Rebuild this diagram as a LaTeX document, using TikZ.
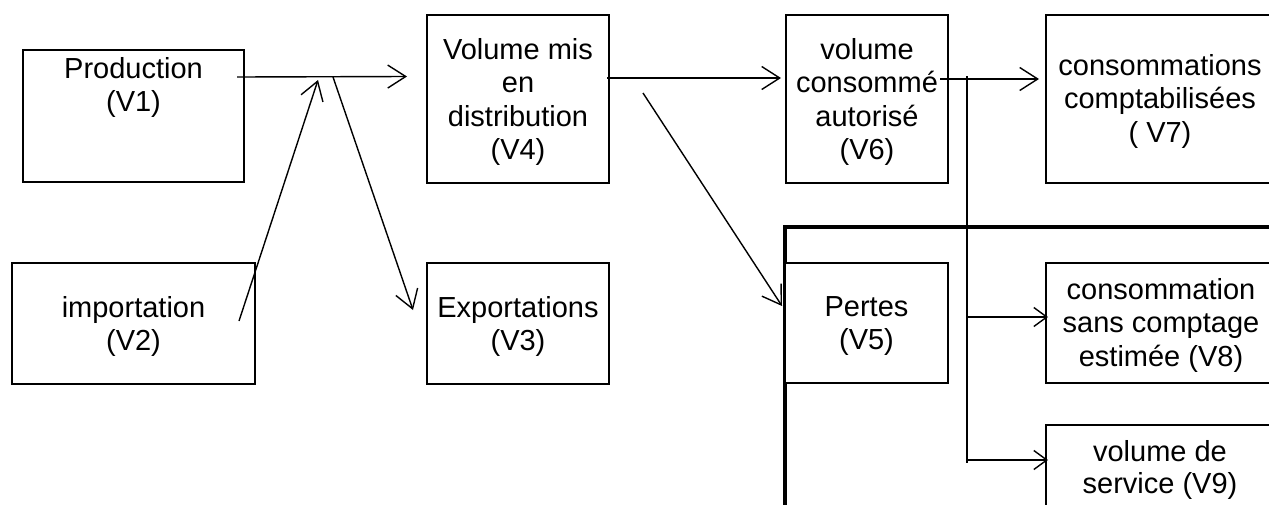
\documentclass[tikz,border=0pt]{standalone}
\usepackage{fontspec}
\setmainfont{Liberation Sans}
\usetikzlibrary{arrows.meta}
\begin{document}
\begin{tikzpicture}[x=1pt,y=-1pt,
  box/.style={draw,line width=2.2pt,rectangle,inner sep=0pt},
  txt/.style={align=center,inner sep=0pt,anchor=north,font=\fontsize{29}{33.5}\selectfont},
  conn/.style={line width=1.4pt,-{Straight Barb[length=18pt,width=23pt]}},
  sconn/.style={line width=1.4pt,-{Straight Barb[length=13pt,width=19pt]}},
  plain/.style={line width=1.4pt}]
\useasboundingbox (0,0) rectangle (1269,504);
\clip (0,0) rectangle (1269,504);
% large frame
\draw[line width=3.2pt] (785,560) -- (785,227) -- (1300,227);
% boxes
\node[box,minimum width=221pt,minimum height=132pt] (b1) at (133.5,116) {};
\node[box,minimum width=243pt,minimum height=121pt] (b2) at (133.5,323.5) {};
\node[box,minimum width=182pt,minimum height=121pt] (b3) at (518,323.5) {};
\node[box,minimum width=182pt,minimum height=168pt] (b4) at (518,99) {};
\node[box,minimum width=163pt,minimum height=120pt,fill=white] (b5) at (866.5,323) {};
\node[box,minimum width=162pt,minimum height=168pt] (b6) at (867,99) {};
\node[box,minimum width=230pt,minimum height=168pt] (b7) at (1161,99) {};
\node[box,minimum width=230pt,minimum height=120pt] (b8) at (1161,323) {};
\node[box,minimum width=230pt,minimum height=120pt] (b9) at (1161,485) {};
% texts
\node[txt] (t1) at (133.5,57) {Production\\(V1)};
\node[txt] (t2) at (133.5,296) {importation\\(V2)};
\node[txt] (t3) at (518,296) {Exportations\\(V3)};
\node[txt] (t4) at (518,38) {Volume mis\\en\\distribution\\(V4)};
\node[txt] (t5) at (866.5,296) {Pertes\\(V5)};
\node[txt] (t6) at (867,38) {volume\\consommé\\autorisé\\(V6)};
\node[txt] (t7) at (1160,54) {consommations\\comptabilisées\\( V7)};
\node[txt] (t8) at (1161,278) {consommation\\sans comptage\\estimée (V8)};
\node[txt,font=\fontsize{29}{32}\selectfont] (t9) at (1160,440) {volume de\\service (V9)};
% connector end points
\coordinate (p1s) at (237,77);
\coordinate (p1e) at (407,76.5);
\coordinate (imps) at (239,321);
\coordinate (impe) at (318,80);
\coordinate (exps) at (333,77);
\coordinate (expe) at (413,310);
\coordinate (v4s) at (607,78);
\coordinate (v4e) at (781,78);
\coordinate (v5s) at (643,93);
\coordinate (v5e) at (782,306);
\coordinate (v6s) at (940,79);
\coordinate (v6e) at (1039,79);
\coordinate (vtop) at (967,76);
\coordinate (vbot) at (967,463);
\coordinate (v8s) at (967,317);
\coordinate (v8e) at (1048,317);
\coordinate (v9s) at (967,460);
\coordinate (v9e) at (1048,460);
% connectors
\draw[conn] (p1s) -- (p1e);
\draw[conn] (imps) -- (impe);
\draw[conn] (exps) -- (expe);
\draw[conn] (v4s) -- (v4e);
\draw[conn] (v5s) -- (v5e);
\draw[conn] (v6s) -- (v6e);
\draw[plain] (vtop) -- (vbot);
\draw[sconn] (v8s) -- (v8e);
\draw[sconn] (v9s) -- (v9e);
\end{tikzpicture}
\end{document}
